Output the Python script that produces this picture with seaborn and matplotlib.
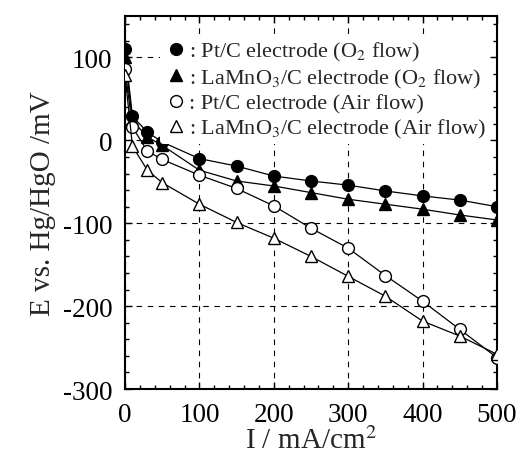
import numpy as np
import pandas as pd
import matplotlib.pyplot as plt
import seaborn as sns
from matplotlib.lines import Line2D
from matplotlib.ticker import MultipleLocator

sns.set_theme(style="ticks")
plt.rcParams['font.family'] = ['Liberation Serif', 'DejaVu Serif']
plt.rcParams['mathtext.fontset'] = 'stix'
plt.rcParams['axes.unicode_minus'] = False

current = [0, 10, 30, 50, 100, 150, 200, 250, 300, 350, 400, 450, 500]
pt_o2 = [110, 29, 10, -2, -22, -31, -43, -49, -54, -61, -67, -72, -80]
la_o2 = [100, 24, 4, -6, -36, -49, -55, -63, -71, -77, -83, -90, -96]
pt_air = [86, 16, -13, -23, -42, -58, -79, -106, -130, -163, -194, -228, -262]
la_air = [79, -7, -36, -51, -77, -99, -118, -140, -164, -188, -218, -236, -258]

labels = [': Pt/C electrode (O$_2$ flow)',
          ': LaMnO$_3$/C electrode (O$_2$ flow)',
          ': Pt/C electrode (Air flow)',
          ': LaMnO$_3$/C electrode (Air flow)']
series = [pt_o2, la_o2, pt_air, la_air]
markers = ['o', '^', 'o', '^']
faces = ['black', 'black', 'white', 'white']

fig = plt.figure(figsize=(5.22, 4.6), dpi=100)
ax = fig.add_axes([0.2395, 0.152, 0.7125, 0.811])

handles = []
for vals, m, fc, lab in zip(series, markers, faces, labels):
    sns.lineplot(x=current, y=vals, ax=ax, color='black', linewidth=0.9,
                 marker=m, markersize=8.5, markerfacecolor=fc,
                 markeredgecolor='black', markeredgewidth=1.0, zorder=3)
    handles.append(Line2D([], [], linestyle='none', marker=m, markersize=8.5,
                          markerfacecolor=fc, markeredgecolor='black',
                          markeredgewidth=1.0, label=lab))

ax.set_xlim(0, 500)
ax.set_ylim(-300, 150)
ax.xaxis.set_major_locator(MultipleLocator(100))
ax.xaxis.set_minor_locator(MultipleLocator(20))
ax.set_yticks([-300, -200, -100, 0, 100])
ax.yaxis.set_minor_locator(MultipleLocator(20))
ax.grid(True, which='major', color='black', linestyle=(0, (5, 5)), linewidth=0.8)
ax.tick_params(which='both', direction='in', top=True, right=True,
               labelsize=19.5, colors='black', width=1.0)
ax.tick_params(axis='y', which='major', length=5, pad=9)
ax.tick_params(axis='x', which='major', length=5, pad=9)
ax.tick_params(which='minor', length=3)
for s in ax.spines.values():
    s.set_linewidth(1.5)
    s.set_color('black')

ax.set_xlabel('I / mA/cm$^2$', fontsize=21, labelpad=0)
ax.set_ylabel('E vs. Hg/HgO /mV', fontsize=21, labelpad=5)

leg = ax.legend(handles=handles, loc='upper right', bbox_to_anchor=(1.0, 0.965),
                fontsize=16, frameon=True, handletextpad=0.1, labelspacing=0.15,
                handlelength=1.0, borderpad=0.2, borderaxespad=0.3)
leg.get_frame().set_edgecolor('none')
leg.get_frame().set_facecolor('white')
leg.get_frame().set_alpha(1.0)

fig.savefig('out.png', dpi=100)
